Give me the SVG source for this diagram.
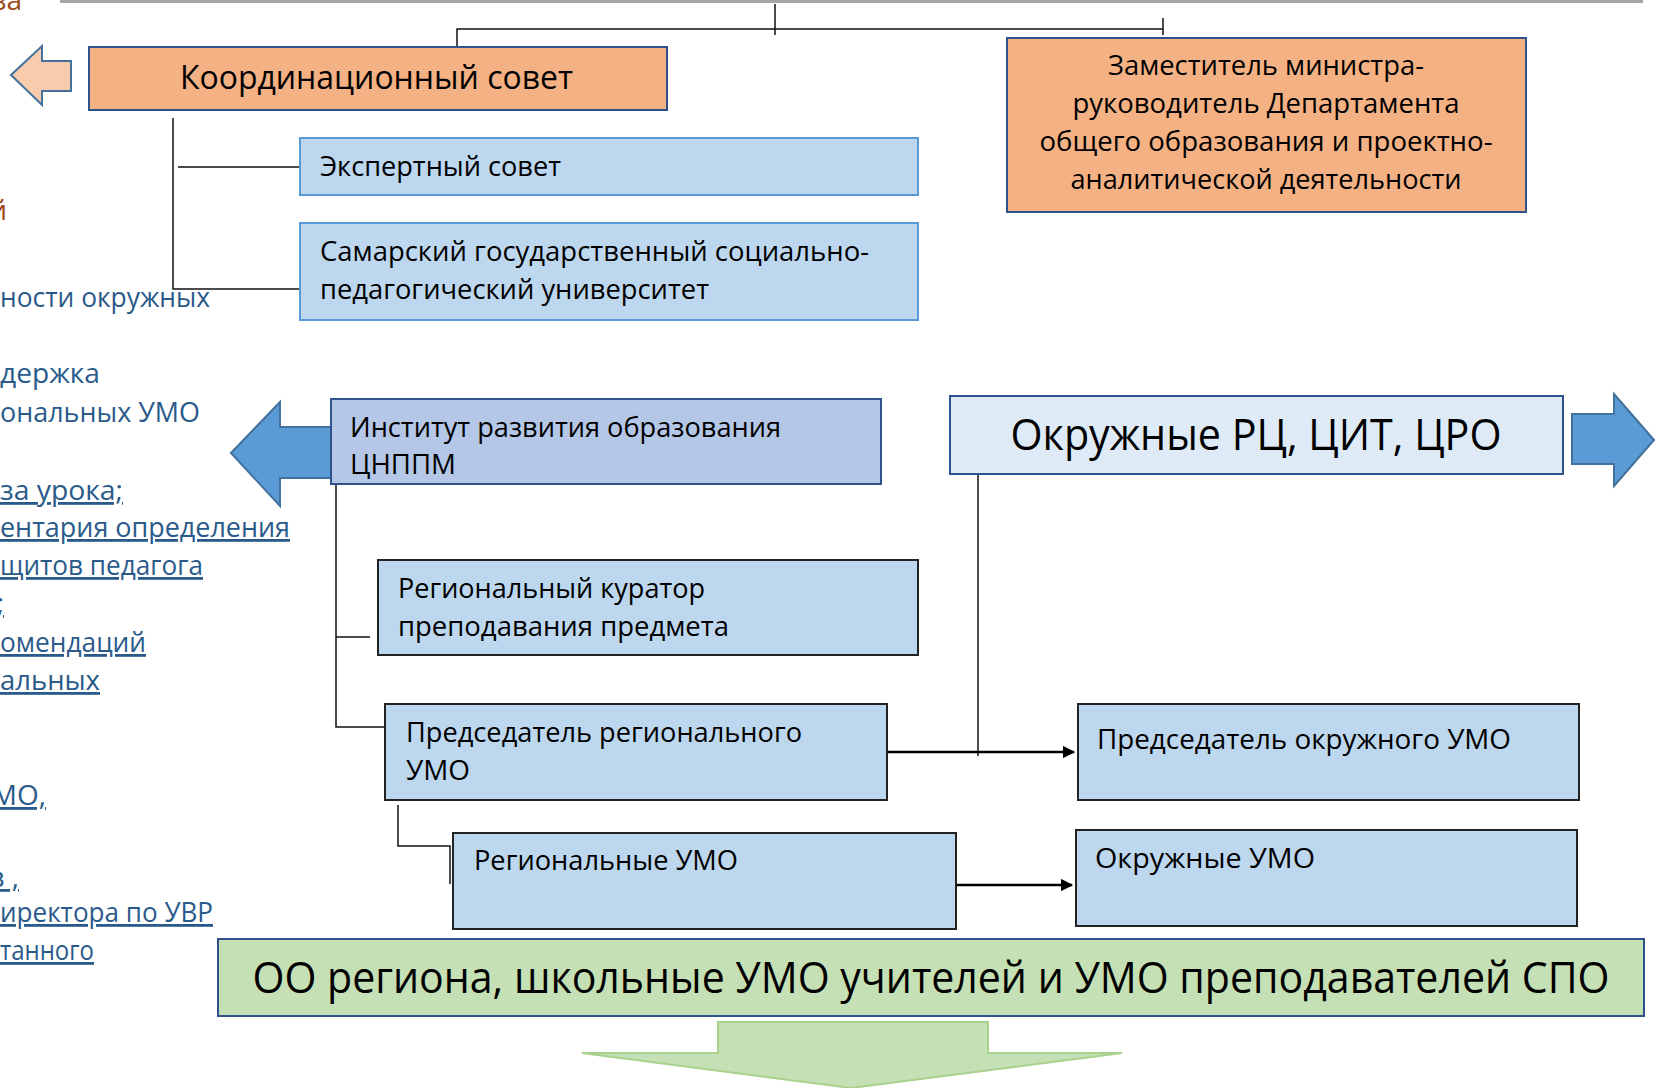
<svg xmlns="http://www.w3.org/2000/svg" width="1665" height="1088" viewBox="0 0 1665 1088">
<style>
text{font-family:"Open Sans","Noto Sans","DejaVu Sans",sans-serif;fill:#000}
.t{font-size:27px}
.big{font-size:44px}
.side{font-size:28px;fill:#2A5A8A}
.brown{font-size:28px;fill:#9C4A1A}
.u{text-decoration:underline}
.orange{fill:#F4B183;stroke:#2F528F;stroke-width:2}
.lblue{fill:#BDD7EE;stroke:#5B9BD5;stroke-width:2}
.dblue{fill:#BDD7EE;stroke:#222;stroke-width:2}
.ln{fill:none;stroke:#111;stroke-width:1.5}
.ar{fill:none;stroke:#000;stroke-width:2.5}
</style>
<defs>
<marker id="ah" viewBox="0 0 10 10" refX="9" refY="5" markerWidth="5" markerHeight="5" orient="auto"><path d="M0,0 L10,5 L0,10 z" fill="#000"/></marker>
</defs>
<rect width="1665" height="1088" fill="#fff"/>
<line x1="60" y1="1.5" x2="1643" y2="1.5" stroke="#A6A6A6" stroke-width="3"/>

<g id="side-text">
<text class="brown" x="22" y="10" text-anchor="end">за</text>
<text class="brown" x="7" y="220" text-anchor="end">й</text>
<text class="side" x="0" y="307" textLength="210" lengthAdjust="spacingAndGlyphs">ности окружных</text>
<text class="side" x="0" y="383" textLength="100" lengthAdjust="spacingAndGlyphs">держка</text>
<text class="side" x="0" y="422" textLength="200" lengthAdjust="spacingAndGlyphs">ональных УМО</text>
<text class="side u" x="0" y="500" textLength="123" lengthAdjust="spacingAndGlyphs">за урока;</text>
<text class="side u" x="0" y="537" textLength="290" lengthAdjust="spacingAndGlyphs">ентария определения</text>
<text class="side u" x="0" y="575" textLength="203" lengthAdjust="spacingAndGlyphs">щитов педагога</text>
<text class="side u" x="4" y="613" text-anchor="end">;</text>
<text class="side u" x="0" y="652" textLength="146" lengthAdjust="spacingAndGlyphs">омендаций</text>
<text class="side u" x="0" y="690" textLength="100" lengthAdjust="spacingAndGlyphs">альных</text>
<text class="side u" x="46" y="805" text-anchor="end">МО,</text>
<text class="side u" x="19" y="887" text-anchor="end">в ,</text>
<text class="side u" x="0" y="922" textLength="213" lengthAdjust="spacingAndGlyphs">иректора по УВР</text>
<text class="side u" x="0" y="960" textLength="94" lengthAdjust="spacingAndGlyphs">танного</text>
</g>

<g id="connectors">
<path class="ln" d="M775,4 V35 M457,47 V29 H1163 M1163,18 V35"/>
<path class="ln" d="M173,118 V289 H300 M178,167 H300"/>
<path class="ln" d="M336,476 V727 H385 M336,637 H370"/>
<path class="ln" d="M398,805 V846 H450 V884"/>
<path class="ln" d="M978,474 V756"/>
<line class="ar" x1="887" y1="752" x2="1074" y2="752" marker-end="url(#ah)"/>
<line class="ar" x1="947" y1="885" x2="1072" y2="885" marker-end="url(#ah)"/>
</g>

<g id="arrow-orange">
<path d="M11,75 L42,46 V61 H71 V91 H42 V105 Z" fill="#F8CBAD" stroke="#41719C" stroke-width="2"/>
</g>
<g id="arrow-left-blue">
<path d="M231,453 L280,402 V427 H331 V478 H280 V506 Z" fill="#5B9BD5" stroke="#41719C" stroke-width="2"/>
</g>
<g id="arrow-right-blue">
<path d="M1654,440 L1614,394 V414 H1572 V464 H1614 V486 Z" fill="#5B9BD5" stroke="#41719C" stroke-width="2"/>
</g>
<g id="arrow-down-green">
<path d="M718,1022 H988 V1053 H1122 L851,1088 L582,1053 H718 Z" fill="#C5E0B4" stroke="#A9D18E" stroke-width="2"/>
</g>

<g id="koord">
<rect class="orange" x="89" y="47" width="578" height="63"/>
<text x="180" y="89" font-size="32" textLength="393" lengthAdjust="spacingAndGlyphs">Координационный совет</text>
</g>
<g id="zam">
<rect class="orange" x="1007" y="38" width="519" height="174"/>
<text class="t" x="1266" y="75" text-anchor="middle" textLength="316" lengthAdjust="spacingAndGlyphs">Заместитель министра-</text>
<text class="t" x="1266" y="113" text-anchor="middle" textLength="387" lengthAdjust="spacingAndGlyphs">руководитель Департамента</text>
<text class="t" x="1266" y="151" text-anchor="middle" textLength="453" lengthAdjust="spacingAndGlyphs">общего образования и проектно-</text>
<text class="t" x="1266" y="189" text-anchor="middle" textLength="391" lengthAdjust="spacingAndGlyphs">аналитической деятельности</text>
</g>
<g id="expert">
<rect class="lblue" x="300" y="138" width="618" height="57"/>
<text class="t" x="320" y="176" textLength="241" lengthAdjust="spacingAndGlyphs">Экспертный совет</text>
</g>
<g id="sgspu">
<rect class="lblue" x="300" y="223" width="618" height="97"/>
<text class="t" x="320" y="261" textLength="549" lengthAdjust="spacingAndGlyphs">Самарский государственный социально-</text>
<text class="t" x="320" y="299" textLength="389" lengthAdjust="spacingAndGlyphs">педагогический университет</text>
</g>
<g id="iro">
<rect x="331" y="399" width="550" height="85" fill="#B4C7E7" stroke="#2F528F" stroke-width="2"/>
<text class="t" x="350" y="437" textLength="431" lengthAdjust="spacingAndGlyphs">Институт развития образования</text>
<text class="t" x="350" y="474" textLength="106" lengthAdjust="spacingAndGlyphs">ЦНППМ</text>
</g>
<g id="okr-rc">
<rect x="950" y="396" width="613" height="78" fill="#DEEBF7" stroke="#2F528F" stroke-width="2"/>
<text class="big" x="1256" y="450" text-anchor="middle" textLength="491" lengthAdjust="spacingAndGlyphs">Окружные РЦ, ЦИТ, ЦРО</text>
</g>
<g id="kurator">
<rect class="dblue" x="378" y="560" width="540" height="95"/>
<text class="t" x="398" y="598" textLength="307" lengthAdjust="spacingAndGlyphs">Региональный куратор</text>
<text class="t" x="398" y="636" textLength="331" lengthAdjust="spacingAndGlyphs">преподавания предмета</text>
</g>
<g id="pred-reg">
<rect class="dblue" x="385" y="704" width="502" height="96"/>
<text class="t" x="406" y="742" textLength="396" lengthAdjust="spacingAndGlyphs">Председатель регионального</text>
<text class="t" x="406" y="780" textLength="64" lengthAdjust="spacingAndGlyphs">УМО</text>
</g>
<g id="reg-umo">
<rect class="dblue" x="453" y="833" width="503" height="96"/>
<text class="t" x="474" y="870" textLength="264" lengthAdjust="spacingAndGlyphs">Региональные УМО</text>
</g>
<g id="pred-okr">
<rect class="dblue" x="1078" y="704" width="501" height="96"/>
<text class="t" x="1097" y="749" textLength="414" lengthAdjust="spacingAndGlyphs">Председатель окружного УМО</text>
</g>
<g id="okr-umo">
<rect class="dblue" x="1076" y="830" width="501" height="96"/>
<text class="t" x="1095" y="868" textLength="220" lengthAdjust="spacingAndGlyphs">Окружные  УМО</text>
</g>
<g id="oo">
<rect x="218" y="939" width="1426" height="77" fill="#C5E0B4" stroke="#2F528F" stroke-width="2"/>
<text class="big" x="931" y="993" text-anchor="middle" textLength="1357" lengthAdjust="spacingAndGlyphs">ОО региона, школьные УМО учителей и УМО преподавателей СПО</text>
</g>
</svg>
